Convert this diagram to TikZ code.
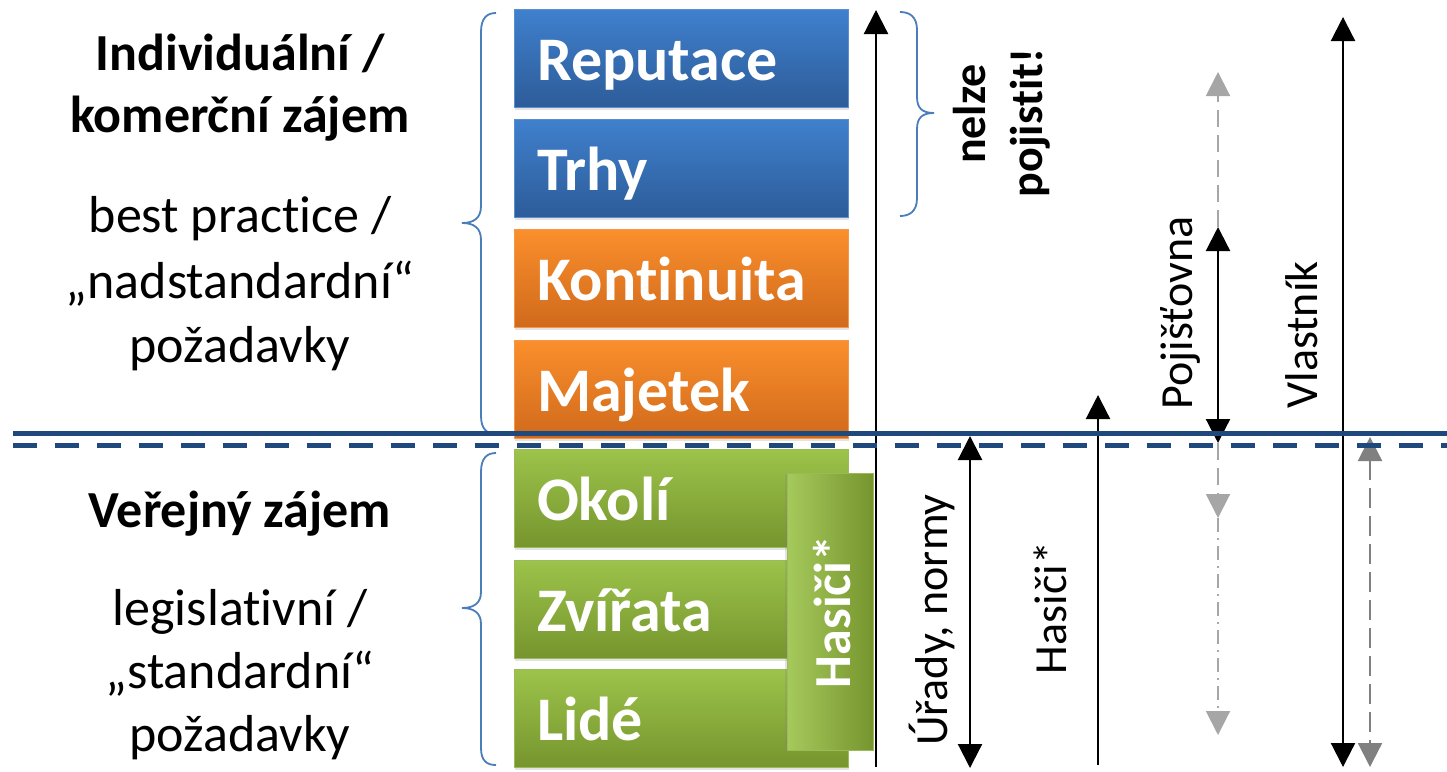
\documentclass[tikz,border=0pt]{standalone}
\usepackage{fontspec}
\setmainfont{Carlito}[Ligatures=NoCommon]
\usetikzlibrary{arrows.meta,shadows}

\definecolor{bluetop}{HTML}{3F80CD}
\definecolor{bluebot}{HTML}{2D5C99}
\definecolor{blueedge}{HTML}{5A8ED0}
\definecolor{orangetop}{HTML}{FB8F2C}
\definecolor{orangebot}{HTML}{D06A1C}
\definecolor{orangeedge}{HTML}{F79646}
\definecolor{greentop}{HTML}{9CC34A}
\definecolor{greenbot}{HTML}{76952E}
\definecolor{greenedge}{HTML}{9BBB59}
\definecolor{navy}{HTML}{1F497D}
\definecolor{bracecol}{HTML}{4A7EBB}
\definecolor{lgray}{HTML}{A6A6A6}
\definecolor{mgray}{HTML}{808080}

\begin{document}
\begin{tikzpicture}[x=1pt,y=-1pt,
  catbox/.style={minimum width=334pt, minimum height=98pt, inner xsep=23pt, inner ysep=0pt,
    text width=288pt, align=left, text height=44pt, text depth=0pt,
    font=\bfseries\fontsize{62}{70}\selectfont, text=white, line width=0.8pt,
    drop shadow={opacity=0.22, shadow xshift=1pt, shadow yshift=-2.5pt}},
  bluebox/.style={catbox, draw=blueedge, top color=bluetop, bottom color=bluebot},
  orangebox/.style={catbox, draw=orangeedge, top color=orangetop, bottom color=orangebot},
  greenbox/.style={catbox, draw=greenedge, top color=greentop, bottom color=greenbot},
  lefthead/.style={anchor=base, font=\bfseries\fontsize{52}{62}\selectfont},
  lefttext/.style={anchor=base, font=\fontsize{52}{62}\selectfont},
  rlab/.style={rotate=90, anchor=base, font=\fontsize{46}{55}\selectfont},
  rlabb/.style={rotate=90, anchor=base, font=\bfseries\fontsize{46}{55}\selectfont},
  brace/.style={draw=bracecol, line width=1.8pt},
  blk/.style={black, line width=2.2pt},
  tipk/.style={-{Triangle[width=24pt,length=24pt]}},
  tipkk/.style={{Triangle[width=24pt,length=24pt]}-{Triangle[width=24pt,length=24pt]}},
  navyline/.style={navy, line width=5pt}
]
\useasboundingbox (0,0) rectangle (1447,771);
\fill[white] (0,0) rectangle (1447,771);

% category boxes
\node[bluebox]   (rep)  at (681,58)  {Reputace};
\node[bluebox]   (trhy) at (681,168) {Trhy};
\node[orangebox] (kont) at (681,278) {Kontinuita};
\node[orangebox] (maj)  at (681,389) {Majetek};
\node[greenbox]  (oko)  at (681,498.5) {Okolí};
\node[greenbox]  (zvi)  at (681,609) {Zvířata};
\node[greenbox]  (lide) at (681,718.5) {Lidé};

% vertical Hasici box: lighter on the left, darker on the right
\node[minimum width=86pt, minimum height=277pt, inner sep=0pt,
      draw=greenedge, line width=0.8pt,
      left color=greentop!90!white, right color=greenbot,
      drop shadow={opacity=0.22, shadow xshift=-2pt, shadow yshift=-1pt}]
      (hasb) at (830,611.5) {};
\node[rotate=90, anchor=base, text=white, font=\bfseries\fontsize{52}{60}\selectfont]
      (hast) at (850,612) {Hasiči*};

% left texts
\node[lefthead] (h1a) at (240,70)  {Individuální /};
\node[lefthead] (h1b) at (240,132) {komerční zájem};
\node[lefttext] (d1a) at (240,232) {best practice /};
\node[lefttext] (d1b) at (240,298) {„nadstandardní“};
\node[lefttext] (d1c) at (240,362) {požadavky};
\node[lefthead] (h2)  at (240,527) {Veřejný zájem};
\node[lefttext] (d2a) at (240,625) {legislativní /};
\node[lefttext] (d2b) at (240,688) {„standardní“};
\node[lefttext] (d2c) at (240,751) {požadavky};

% braces
\draw[brace] (496,13) .. controls (487,13) and (481,18) .. (481,32) -- (481,206)
  .. controls (481,218) and (474,223) .. (462,223)
  .. controls (474,223) and (481,228) .. (481,240) -- (481,416)
  .. controls (481,429) and (487,434) .. (496,434);
\draw[brace] (496,453) .. controls (487,453) and (481,458) .. (481,472) -- (481,592)
  .. controls (481,603) and (474,608) .. (462,608)
  .. controls (474,608) and (481,613) .. (481,624) -- (481,748)
  .. controls (481,761) and (487,765) .. (496,765);
\draw[brace] (900,12) .. controls (910,12) and (917,17) .. (917,30) -- (917,97)
  .. controls (917,108) and (922,113) .. (934,113)
  .. controls (922,113) and (917,118) .. (917,129) -- (917,198)
  .. controls (917,211) and (910,216) .. (900,216);

% rotated labels
\node[rlabb] (nelze)  at (985,114)  {nelze};
\node[rlabb] (pojist) at (1042,123) {pojistit!};
\node[rlab]  (urady)  at (947,620)  {Úřady, normy};
\node[rlab]  (hasl)   at (1066,608) {Hasiči*};
\node[rlab]  (poj)    at (1192,313) {Pojišťovna};
\node[rlab]  (vla)    at (1317,335) {Vlastník};

% arrow end points
\coordinate (a1b) at (876,767);  \coordinate (a1t) at (876,10);
\coordinate (a2t) at (970,436);  \coordinate (a2b) at (970,768);
\coordinate (a3b) at (1098,765); \coordinate (a3t) at (1098,395);
\coordinate (a4t) at (1218,227); \coordinate (a4b) at (1218,443);
\coordinate (a4u) at (1218,72);  \coordinate (a4m) at (1218,518);
\coordinate (a4d) at (1218,735);
\coordinate (a5t) at (1343,17);  \coordinate (a5b) at (1343,767);
\coordinate (a6t) at (1370,437); \coordinate (a6b) at (1370,767);

% arrows
\draw[blk, tipk]  (a1b) -- (a1t);
\draw[blk, tipkk] (a2t) -- (a2b);
\draw[blk, tipk]  (a3b) -- (a3t);
\draw[lgray, line width=2pt, dash pattern=on 17pt off 8pt, -{Triangle[width=24pt,length=24pt]}] (a4t) -- (a4u);
\draw[lgray, line width=2pt, dash pattern=on 17pt off 8pt, -{Triangle[width=24pt,length=24pt]}] (a4b) -- (a4m);
\draw[lgray, line width=2pt, dash pattern=on 14pt off 6pt on 2pt off 6pt, -{Triangle[width=24pt,length=24pt]}] (a4m) -- (a4d);
\draw[blk, tipkk] (a4t) -- (a4b);
\draw[blk, tipkk] (a5t) -- (a5b);
\draw[mgray, line width=2.2pt, dash pattern=on 20pt off 8pt, tipkk] (a6t) -- (a6b);

% separating lines
\coordinate (sl) at (13,433);  \coordinate (sr) at (1447,433);
\coordinate (dl) at (13,445);  \coordinate (dr) at (1447,445);
\draw[navyline] (sl) -- (sr);
\draw[navyline, dash pattern=on 24pt off 18pt] (dl) -- (dr);
\end{tikzpicture}
\end{document}
